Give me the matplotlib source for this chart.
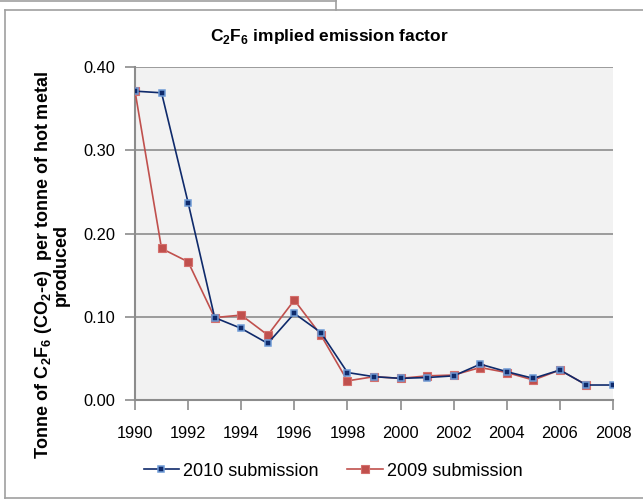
import matplotlib
matplotlib.use("Agg")
import matplotlib.pyplot as plt
from matplotlib.lines import Line2D

years = list(range(1990, 2009))
sub2010 = [0.371, 0.369, 0.237, 0.099, 0.086, 0.068, 0.104, 0.081, 0.033, 0.028,
           0.026, 0.027, 0.029, 0.043, 0.034, 0.026, 0.036, 0.018, 0.018]
years2009 = list(range(1990, 2008))
sub2009 = [0.371, 0.182, 0.166, 0.099, 0.102, 0.078, 0.120, 0.078, 0.023, 0.028,
           0.026, 0.029, 0.030, 0.039, 0.033, 0.024, 0.036, 0.018]
xticks = list(range(1990, 2009, 2))
yticks = [0.0, 0.1, 0.2, 0.3, 0.4]

plt.rcParams['font.family'] = ['Liberation Sans', 'DejaVu Sans']
plt.rcParams['mathtext.fontset'] = 'custom'
plt.rcParams['mathtext.rm'] = 'Liberation Sans'
plt.rcParams['mathtext.bf'] = 'Liberation Sans:bold'

W, H = 643, 503
fig = plt.figure(figsize=(W / 100, H / 100), dpi=100)
fig.patch.set_facecolor('white')

L, R, T, B = 135, 613, 67, 400
ax = fig.add_axes([L / W, (H - B) / H, (R - L) / W, (B - T) / H])
ax.set_facecolor('#F2F2F2')

grid_c = '#8C8C8C'
ax.plot(years, sub2010, color='#0F2A6B', lw=1.2, marker='s', ms=5,
        mfc='#0F2A6B', mec='#6F9BD6', mew=1.1, label='2010 submission', zorder=4)
ax.plot(years2009, sub2009, color='#C0504D', lw=1.2, marker='s', ms=5.5,
        mfc='#C0504D', mec='#D46F6C', mew=0.8, label='2009 submission', zorder=3)

ax.set_xlim(1990, 2008)
ax.set_ylim(0, 0.4)
ax.set_xticks(xticks)
ax.set_xticklabels([str(x) for x in xticks])
ax.set_yticks(yticks)
ax.set_yticklabels([f"{v:.2f}" for v in yticks])
ax.yaxis.grid(True, color=grid_c, lw=1.2)
ax.set_axisbelow(True)
for s in ['top', 'right']:
    ax.spines[s].set_visible(False)
for s in ['left', 'bottom']:
    ax.spines[s].set_color(grid_c)
    ax.spines[s].set_linewidth(1.5)
ax.tick_params(axis='both', direction='out', length=7, width=1.2,
               labelsize=11.8, colors=grid_c, labelcolor='black')
ax.tick_params(axis='x', pad=12)
ax.tick_params(axis='y', pad=7)

fig.text(329 / W, 1 - 37 / H, r'C$_\mathbf{2}$F$_\mathbf{6}$ implied emission factor',
         ha='center', va='center', fontsize=12.5, fontweight='bold')

fig.text(51 / W, 1 - 265 / H,
         'Tonne of C$_\\mathbf{2}$F$_\\mathbf{6}$ (CO$_\\mathbf{2}$-e)  per tonne of hot metal\nproduced',
         ha='center', va='center', rotation=90, fontsize=13, fontweight='bold',
         multialignment='center', linespacing=0.9)

leg = fig.legend(loc='center', bbox_to_anchor=(333 / W, 1 - 471 / H), ncol=2,
                 frameon=False, fontsize=13, handlelength=1.95, handletextpad=0.22,
                 columnspacing=1.6)

# chart frame
fc = '#A0A0A0'
def fl(x0, y0, x1, y1):
    fig.add_artist(Line2D([x0 / W, x1 / W], [1 - y0 / H, 1 - y1 / H],
                          transform=fig.transFigure, color=fc, lw=1.2))
fl(5, 10, W, 10)
fl(5, 10, 5, 498)
fl(5, 498, W, 498)
fl(0, 0.5, 336, 0.5)
fl(336, 0, 336, 10)

fig.savefig('out.png', dpi=100, facecolor='white')
